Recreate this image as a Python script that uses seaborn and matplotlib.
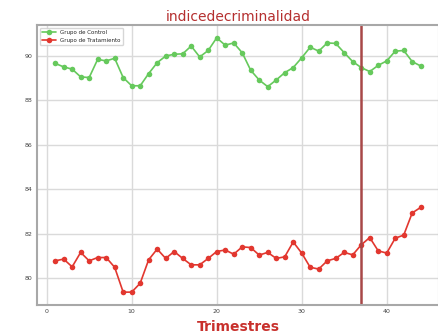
import pandas as pd
import seaborn as sns
import matplotlib
matplotlib.use('Agg')
import matplotlib.pyplot as plt

trimestres = list(range(1, 45))

grupo_control = [89.67, 89.51, 89.41, 89.06, 89.03, 89.85, 89.78, 89.90, 89.03, 88.66,
                 88.66, 89.21, 89.70, 90.00, 90.08, 90.10, 90.45, 89.96, 90.25, 90.82,
                 90.49, 90.59, 90.15, 89.36, 88.92, 88.62, 88.92, 89.25, 89.48, 89.92,
                 90.40, 90.22, 90.59, 90.57, 90.15, 89.75, 89.48, 89.30, 89.58, 89.78,
                 90.22, 90.25, 89.75, 89.55]

grupo_tratamiento = [80.77, 80.85, 80.50, 81.15, 80.77, 80.92, 80.92, 80.48, 79.36, 79.36,
                     79.76, 80.82, 81.30, 80.88, 81.19, 80.88, 80.59, 80.59, 80.88, 81.19,
                     81.26, 81.07, 81.40, 81.37, 81.03, 81.15, 80.88, 80.95, 81.62, 81.12,
                     80.48, 80.40, 80.77, 80.88, 81.15, 81.04, 81.49, 81.82, 81.22, 81.12,
                     81.79, 81.93, 82.93, 83.18]

trimestre_intervencion = 37
xticks = [0, 10, 20, 30, 40]
yticks = [80, 82, 84, 86, 88, 90]

df = pd.DataFrame({
    'trimestre': trimestres * 2,
    'valor': grupo_control + grupo_tratamiento,
    'grupo': ['Grupo de Control'] * len(trimestres) + ['Grupo de Tratamiento'] * len(trimestres),
})

sns.set_style('whitegrid', {'grid.color': '#dadada', 'axes.edgecolor': '#a8a8a8'})

fig = plt.figure(figsize=(4.39, 3.35), dpi=100)
ax = fig.add_axes([0.084, 0.09, 0.916, 0.835])

sns.lineplot(data=df, x='trimestre', y='valor', hue='grupo',
             palette={'Grupo de Control': '#66c95c', 'Grupo de Tratamiento': '#e2372f'},
             marker='o', markersize=4, markeredgewidth=0, linewidth=1.2, ax=ax)

ax.axvline(trimestre_intervencion, color='#a84848', linewidth=1.8)

ax.set_xticks(xticks)
ax.set_yticks(yticks)
ax.tick_params(labelsize=4.5, colors='#444444', length=0, pad=3)
ax.grid(linewidth=1.0)
for s in ax.spines.values():
    s.set_linewidth(1.5)

ax.set_title('indicedecriminalidad', color='#b52f2f', fontsize=10, pad=3)
ax.set_xlabel('Trimestres', color='#c8302c', fontsize=10, fontweight='semibold', labelpad=4)
ax.set_ylabel('')
ax.legend(loc='upper left', fontsize=4, frameon=True, title=None,
          borderpad=0.4, handlelength=2.5)

fig.savefig('out.png', dpi=100)
